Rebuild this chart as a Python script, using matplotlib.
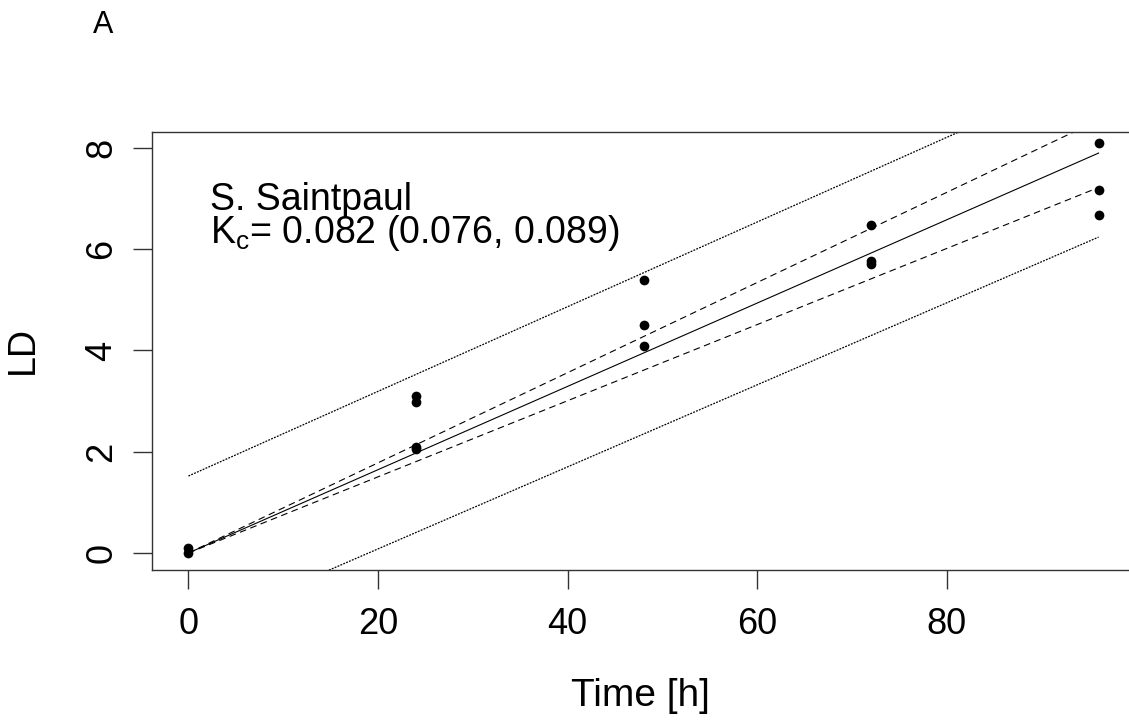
import matplotlib
matplotlib.use('Agg')
import matplotlib.pyplot as plt

plt.rcParams['font.family'] = ['Liberation Sans', 'DejaVu Sans']
plt.rcParams['mathtext.fontset'] = 'custom'
plt.rcParams['mathtext.rm'] = 'Liberation Sans'
plt.rcParams['mathtext.it'] = 'Liberation Sans'

# observed LD values
time_obs = [0, 0, 24, 24, 24, 24, 48, 48, 48, 72, 72, 72, 96, 96, 96]
ld_obs = [0.0, 0.1, 3.1, 2.98, 2.05, 2.1, 5.4, 4.5, 4.08, 6.48, 5.77, 5.71, 8.1, 7.18, 6.68]

# fitted line, confidence band (dashed), prediction band (dotted)
time_line = [0, 96]
ld_fit = [0.0, 7.9]
ci_upper = [0.0, 8.55]
ci_lower = [0.0, 7.22]
pi_upper = [1.52, 9.55]
pi_lower = [-1.54, 6.24]

label_species = 'S. Saintpaul'
label_kc = 'K$_\\mathrm{c}$= 0.082 (0.076, 0.089)'

W, H = 1129, 720
fig = plt.figure(figsize=(W / 100, H / 100), dpi=100)
ax = fig.add_axes([152 / W, (H - 570) / H, (1135 - 152) / W, (570 - 132) / H])

ax.plot(time_line, ld_fit, color='black', lw=0.8)
ax.plot(time_line, ci_upper, color='black', lw=0.8, ls=(0, (6, 4)))
ax.plot(time_line, ci_lower, color='black', lw=0.8, ls=(0, (6, 4)))
ax.plot(time_line, pi_upper, color='black', lw=0.9, ls=(0, (1.5, 1.0)))
ax.plot(time_line, pi_lower, color='black', lw=0.9, ls=(0, (1.5, 1.0)))
ax.plot(time_obs, ld_obs, 'o', color='black', ms=7, mew=0)

ax.set_xlim(-3.84, 99.84)
ax.set_ylim(-0.336, 8.316)
ax.set_xticks([0, 20, 40, 60, 80])
ax.set_yticks([0, 2, 4, 6, 8])
for s in ax.spines.values():
    s.set_linewidth(1.0)
    s.set_color('#333333')
ax.tick_params(axis='both', length=13.5, width=1.0, color='#333333', labelsize=26)
ax.tick_params(axis='x', pad=13)
ax.tick_params(axis='y', pad=10)
for lab in ax.get_yticklabels():
    lab.set_rotation(90)
    lab.set_va('center')

ax.text(2.3, 6.78, label_species, fontsize=27, va='baseline', ha='left')
ax.text(2.3, 6.12, label_kc, fontsize=27, va='baseline', ha='left')

fig.text(640 / W, 1 - 706 / H, 'Time [h]', fontsize=28, ha='center', va='baseline')
fig.text(41 / W, 1 - 350 / H, 'LD', fontsize=27, rotation=90, ha='right', va='center')
fig.text(93 / W, 1 - 33 / H, 'A', fontsize=22, ha='left', va='baseline')

fig.savefig('out.png', dpi=100)
